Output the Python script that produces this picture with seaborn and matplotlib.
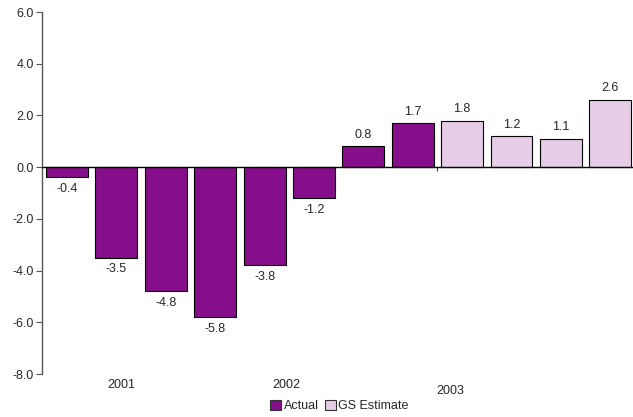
import matplotlib
matplotlib.use("Agg")
import matplotlib.pyplot as plt
import matplotlib.transforms as mtransforms
from matplotlib.patches import Patch
import seaborn as sns
import pandas as pd

quarters = ["Q1 01", "Q2 01", "Q3 01", "Q4 01",
            "Q1 02", "Q2 02", "Q3 02", "Q4 02",
            "Q1 03", "Q2 03", "Q3 03", "Q4 03"]
growth = [-0.4, -3.5, -4.8, -5.8, -3.8, -1.2, 0.8, 1.7, 1.8, 1.2, 1.1, 2.6]
series = ["Actual"] * 8 + ["GS Estimate"] * 4
year_labels = ["2001", "2002", "2003"]
year_pos = [1.1, 4.45, 7.75]
year_y = [-0.03, -0.03, -0.046]

colors = {"Actual": "#870E8A", "GS Estimate": "#E6CCE6"}

sns.set_theme(style="white")
plt.rcParams["font.family"] = ["Liberation Sans", "DejaVu Sans"]

df = pd.DataFrame({"quarter": quarters, "growth": growth, "series": series})

fig = plt.figure(figsize=(6.33, 4.17), dpi=100)
ax = fig.add_axes([0.0664, 0.1031, 0.9336, 0.8681])

sns.barplot(data=df, x="quarter", y="growth", hue="series", palette=colors,
            dodge=False, width=0.85, edgecolor="black", linewidth=0.8,
            saturation=1, legend=False, ax=ax)

ax.set_ylim(-8, 6)
ax.set_xlim(-0.506, 11.46)
ax.set_yticks(range(-8, 7, 2))
ax.set_yticklabels([f"{v:.1f}" for v in range(-8, 7, 2)], fontsize=9)
ax.set_xlabel("")
ax.set_ylabel("")

# Axis styling: y axis on the left, x axis on the zero line
for side in ["top", "right"]:
    ax.spines[side].set_visible(False)
ax.spines["left"].set_color("#555555")
ax.spines["left"].set_linewidth(1.0)
ax.spines["bottom"].set_position(("data", 0))
ax.spines["bottom"].set_color("black")
ax.spines["bottom"].set_linewidth(1.0)
ax.spines["bottom"].set_zorder(5)
ax.tick_params(axis="y", direction="out", length=4, width=0.8,
               color="#555555", left=True, pad=2)
ax.set_xticks([7.5])
ax.set_xticklabels([""])
ax.tick_params(axis="x", direction="out", length=3, width=0.8,
               color="#333333", bottom=True)

# Value labels
for i, v in enumerate(growth):
    if v >= 0:
        ax.annotate(f"{v:.1f}", (i, v), xytext=(0, 4), textcoords="offset points",
                    ha="center", va="bottom", fontsize=9)
    else:
        ax.annotate(f"{v:.1f}", (i, v), xytext=(0, -4), textcoords="offset points",
                    ha="center", va="top", fontsize=9)

# Year labels beneath the plot
trans = mtransforms.blended_transform_factory(ax.transData, ax.transAxes)
for lab, xp, yp in zip(year_labels, year_pos, year_y):
    ax.text(xp, yp, lab, transform=trans, ha="center", va="center", fontsize=9)

handles = [Patch(facecolor=colors[k], edgecolor="#333333", linewidth=0.8, label=k)
           for k in ["Actual", "GS Estimate"]]
fig.legend(handles=handles, loc="center", bbox_to_anchor=(0.536, 0.026),
           ncol=2, frameon=False, fontsize=9, handlelength=0.9, handleheight=0.9,
           handletextpad=0.2, columnspacing=0.5, borderpad=0)

fig.savefig("out.png", dpi=100)
